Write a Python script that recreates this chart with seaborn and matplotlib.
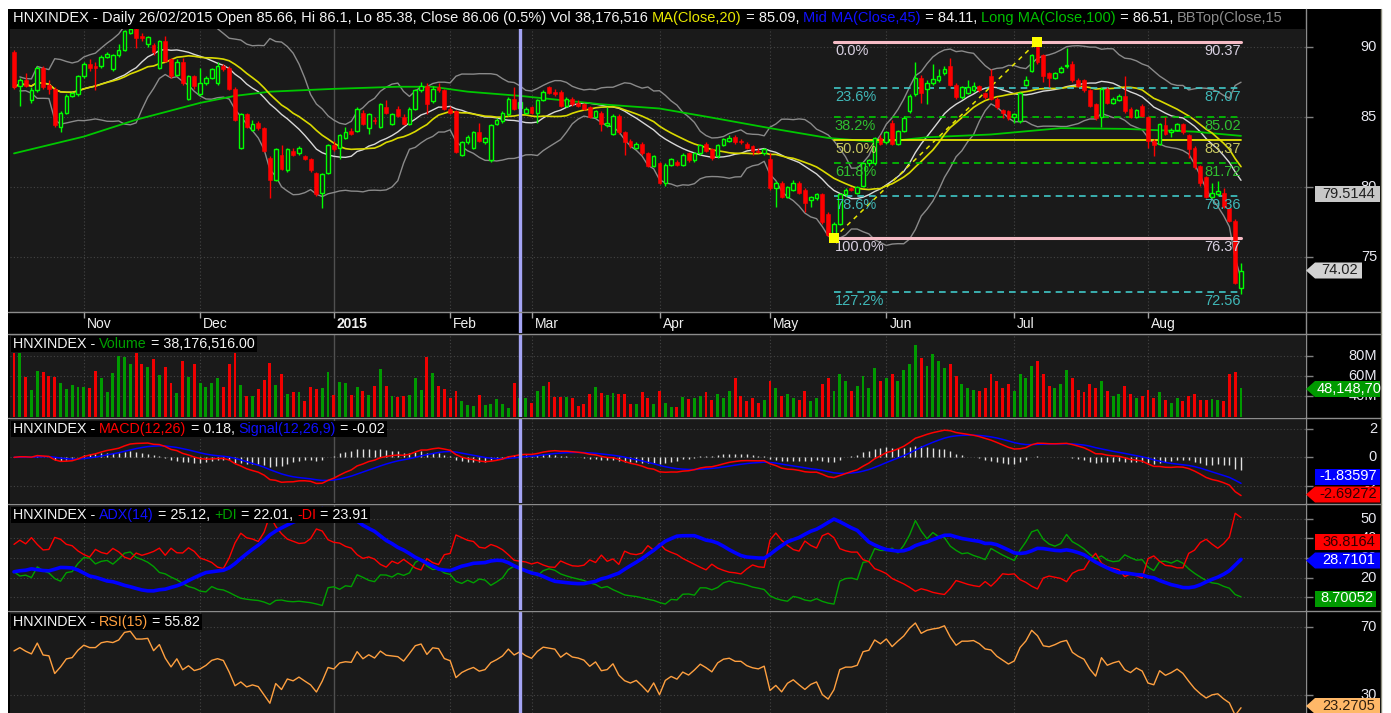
import numpy as np
import pandas as pd
import matplotlib
matplotlib.use("Agg")
import matplotlib.pyplot as plt
import matplotlib.transforms as mtransforms
from matplotlib.patches import Polygon, Rectangle
from matplotlib.lines import Line2D
import seaborn as sns

# ---------------- data ----------------
opens = [89.6, 87.2, 87.6, 86.2, 86.9, 88.5, 87.3, 87.0, 84.3, 85.3, 86.5, 86.6, 87.9, 88.8, 88.6, 88.6, 89.3, 88.4, 89.4, 89.8, 91.0, 91.3, 90.8, 90.2,
         90.1, 88.5, 90.4, 89.1, 88.0, 88.9, 86.3, 87.9, 86.6, 87.4, 87.8, 87.4, 88.6, 88.5, 87.0, 82.8, 85.2, 84.1, 84.6, 84.2, 82.1, 80.5, 82.3, 81.2,
         82.6, 82.4, 82.2, 82.0, 81.0, 79.6, 81.0, 83.0, 82.8, 83.5, 84.0, 84.0, 85.3, 84.2, 84.8, 84.3, 85.7, 84.5, 85.6, 85.0, 84.5, 85.6, 86.9, 87.2, 86.1, 87.1, 86.9, 85.6, 85.4,
         82.3, 83.2, 82.8, 83.9, 83.2, 81.9, 84.5, 84.7, 85.2, 86.3, 85.66, 85.3, 85.7, 85.3, 86.2, 87.1, 86.8, 86.8, 85.8, 86.3, 86.0, 85.9, 85.7, 85.0, 85.3, 84.4, 83.8, 85.1, 83.9, 83.3,
         82.8, 83.1, 82.4, 81.5, 81.7, 80.3, 81.6, 81.8, 81.6, 82.4, 81.9, 82.4, 83.1, 82.7, 82.2, 83.0, 83.3, 83.6, 83.3, 83.1, 82.9, 82.6, 82.4, 82.0, 79.9, 80.3, 79.3, 79.8, 80.3, 79.8,
         79.1, 79.2, 79.5, 78.1, 76.4, 77.4, 79.5, 79.9, 79.6, 80.1, 81.7, 81.7, 83.5, 83.2, 84.6, 83.1, 84.0, 85.4, 86.6, 87.8, 87.0, 87.4, 87.6, 88.1, 88.6, 87.3, 86.4, 86.7, 86.9,
         87.2, 86.7, 87.9, 86.3, 85.5, 85.4, 85.0, 84.7, 87.3, 88.3, 90.3, 89.4, 88.1, 87.8, 88.2, 88.6, 88.8, 87.6, 87.6, 86.9, 85.9, 85.0, 87.0, 86.0, 86.2, 86.5, 85.6, 85.0, 85.8,
         85.0, 83.3, 83.1, 84.4, 83.9, 84.1, 84.5, 83.7, 82.8, 81.5, 80.7, 79.3, 79.5, 79.6, 78.5, 77.6, 72.8]
highs = [89.8, 87.8, 88.1, 87.1, 88.6, 88.6, 87.6, 87.1, 85.4, 86.6, 86.8, 88.0, 88.9, 89.1, 88.9, 89.4, 89.6, 89.5, 90.2, 91.2, 91.5, 91.4, 91.0, 90.8,
         90.3, 90.5, 90.8, 89.2, 89.1, 89.2, 88.0, 88.0, 88.5, 87.9, 88.5, 88.9, 88.8, 88.6, 87.1, 85.3, 85.3, 84.8, 84.7, 84.3, 82.2, 82.8, 83.0, 82.8,
         82.8, 82.9, 82.3, 82.1, 81.1, 81.0, 83.1, 83.3, 83.8, 84.3, 84.2, 85.7, 85.5, 85.3, 85.0, 86.0, 86.2, 85.3, 85.8, 85.2, 85.7, 87.0, 87.5, 87.4, 87.2, 87.4, 87.0, 85.8, 85.5,
         83.3, 83.7, 84.0, 84.6, 83.6, 84.5, 84.9, 85.4, 86.4, 87.1, 86.1, 85.7, 85.8, 86.3, 86.9, 87.2, 87.0, 86.9, 86.4, 86.4, 86.2, 86.0, 85.8, 85.5, 85.4, 85.7, 85.2, 85.2, 84.0,
         83.4, 83.2, 83.2, 82.5, 82.3, 81.8, 81.7, 82.1, 81.9, 82.4, 82.5, 82.5, 83.1, 83.2, 82.8, 83.1, 83.5, 83.7, 83.7, 83.4, 83.2, 83.0, 82.8, 82.8, 82.4, 80.4, 80.4, 80.1, 80.5, 80.4,
         79.9, 79.4, 79.6, 79.6, 78.2, 77.5, 79.6, 79.9, 80.0, 80.1, 81.8, 82.0, 83.6, 83.7, 84.0, 84.8, 84.1, 85.1, 86.6, 88.9, 88.0, 87.6, 88.8, 88.4, 88.6, 89.2, 87.4, 87.2, 87.6, 87.5,
         87.3, 86.8, 88.4, 86.4, 85.6, 85.5, 85.3, 86.8, 87.9, 89.5, 90.37, 89.5, 88.2, 88.2, 88.6, 89.9, 89.0, 87.8, 87.7, 87.0, 86.0, 87.1, 87.1, 86.4, 86.6, 87.9, 85.7, 85.6, 85.9,
         85.1, 83.4, 84.6, 85.0, 84.2, 84.6, 84.6, 83.8, 82.9, 81.6, 80.8, 80.3, 80.4, 79.9, 78.6, 77.7, 74.6]
lows = [87.0, 85.8, 87.1, 86.0, 86.8, 87.0, 86.6, 84.3, 83.9, 85.2, 86.4, 86.5, 87.8, 88.3, 86.9, 88.5, 89.2, 88.3, 89.3, 89.7, 90.9, 89.9, 90.4, 90.0,
        89.4, 88.4, 88.9, 87.8, 87.9, 87.3, 86.2, 87.0, 86.5, 87.3, 87.7, 87.3, 88.3, 86.9, 84.7, 82.7, 84.2, 84.0, 84.1, 82.5, 79.2, 80.4, 81.2, 81.1,
        82.2, 82.3, 81.9, 81.1, 79.4, 78.5, 80.9, 82.6, 82.0, 83.4, 83.7, 83.9, 84.4, 83.8, 84.5, 84.2, 85.2, 84.4, 85.0, 84.4, 84.4, 85.5, 86.8, 85.2, 86.0, 86.8, 85.5, 85.2, 82.4,
        82.2, 83.1, 82.7, 83.2, 83.1, 81.8, 84.4, 84.6, 85.1, 85.5, 85.38, 85.2, 85.2, 84.6, 86.1, 86.6, 86.5, 85.7, 85.7, 85.8, 85.7, 85.5, 84.9, 84.9, 84.0, 84.3, 83.7, 83.8, 82.3,
        82.8, 82.7, 82.3, 81.4, 81.4, 80.2, 80.1, 81.5, 81.5, 81.5, 81.8, 81.8, 82.3, 82.5, 81.9, 82.1, 82.9, 83.2, 83.1, 83.1, 82.7, 82.3, 82.4, 82.3, 79.8, 78.6, 79.2, 79.2, 79.7, 79.5,
        78.2, 78.6, 79.1, 77.4, 76.5, 76.37, 77.3, 79.4, 79.7, 79.5, 80.0, 81.5, 81.6, 83.0, 83.1, 83.0, 83.0, 83.9, 85.3, 86.5, 86.0, 85.9, 87.3, 87.5, 88.0, 87.2, 86.3, 86.3, 86.6, 86.8,
        86.8, 86.3, 86.2, 85.6, 84.9, 84.8, 84.6, 84.6, 87.2, 88.2, 88.8, 87.5, 87.1, 87.7, 88.1, 88.5, 87.5, 87.1, 86.8, 85.7, 84.8, 84.3, 85.9, 85.9, 86.1, 85.3, 84.9, 84.9, 85.0,
        82.8, 82.2, 83.0, 83.7, 83.6, 84.0, 83.8, 82.1, 81.3, 80.1, 79.2, 79.2, 79.4, 78.5, 77.5, 73.1, 72.4]
closes = [87.1, 87.6, 87.2, 86.9, 88.5, 87.1, 87.0, 84.4, 85.3, 86.5, 86.7, 87.9, 88.8, 88.5, 88.5, 89.3, 89.5, 89.4, 89.8, 91.1, 91.3, 90.6, 90.6, 90.7,
          89.6, 90.4, 89.0, 87.9, 88.9, 87.4, 87.9, 87.2, 87.4, 87.8, 88.4, 88.6, 88.4, 87.0, 84.8, 85.2, 84.3, 84.5, 84.2, 82.6, 80.5, 82.7, 81.3, 82.7,
          82.3, 82.8, 82.0, 81.2, 79.5, 80.9, 83.0, 82.7, 83.7, 83.9, 83.8, 85.6, 84.5, 85.2, 84.7, 85.9, 85.3, 85.2, 85.1, 84.5, 85.6, 86.9, 87.2, 85.9, 87.0, 86.9, 85.6, 85.3, 82.5,
          83.2, 83.6, 83.9, 83.3, 83.5, 84.4, 84.8, 85.3, 86.3, 85.6, 86.06, 85.6, 85.3, 86.2, 86.8, 86.7, 86.6, 85.8, 86.3, 85.9, 85.8, 85.6, 85.0, 85.4, 84.5, 84.6, 85.1, 83.9, 83.2,
          82.9, 83.1, 82.4, 81.5, 82.2, 80.3, 81.6, 82.0, 81.6, 82.3, 81.9, 82.4, 83.0, 82.6, 82.1, 83.0, 83.4, 83.5, 83.2, 83.2, 82.8, 82.6, 82.5, 82.7, 79.9, 80.3, 79.3, 80.0, 80.3, 79.6,
          78.9, 79.3, 79.5, 77.5, 76.6, 77.4, 79.5, 79.8, 79.8, 80.0, 81.7, 81.9, 83.5, 83.1, 83.9, 83.1, 84.0, 84.9, 86.5, 87.8, 86.7, 87.4, 87.7, 87.9, 88.4, 87.3, 86.4, 87.1, 87.1, 87.2,
          86.9, 86.4, 86.3, 85.7, 85.3, 84.9, 85.2, 86.7, 87.6, 89.4, 88.9, 87.9, 87.8, 88.1, 88.5, 88.7, 87.6, 87.2, 86.9, 85.8, 84.9, 87.0, 86.0, 86.3, 86.5, 85.4, 85.0, 85.5, 85.1,
          83.3, 83.0, 84.5, 83.8, 84.1, 84.5, 83.9, 82.7, 81.4, 80.3, 79.3, 79.6, 79.7, 78.6, 77.6, 73.2, 74.02]
volumes_m = [82.7, 82.7, 59, 46, 65, 64, 60, 59, 53, 47, 51, 49, 49, 48, 65, 58, 44, 63, 80, 79, 72, 83, 72, 69,
             77, 61, 69, 53, 43, 75, 59, 72, 53, 49, 53, 58, 49, 72, 83, 51, 40, 40, 47, 56, 73, 51, 62, 42,
             44, 44, 35, 49, 47, 48, 64, 41, 54, 53, 41, 49, 45, 41, 50, 67, 50, 40, 39, 40, 41, 58, 46, 79, 63, 50, 47, 38, 45,
             35, 31, 30, 41, 31, 32, 37, 32, 28, 53, 38.18, 38, 33, 45, 50, 54, 39, 39, 39, 38, 30, 32, 42, 49, 43, 41, 43, 42, 42, 32,
             32, 44, 38, 32, 45, 33, 29, 29, 39, 37, 38, 40, 44, 36, 42, 38, 45, 58, 40, 35, 38, 33, 36, 55, 48, 40, 42, 38, 36, 45,
             35, 38, 52, 58, 45, 62, 55, 45, 50, 60, 48, 68, 55, 58, 62, 55, 66, 72, 91, 78, 70, 82, 75, 68, 72, 60, 52, 48, 46, 45,
             48, 62, 55, 48, 52, 45, 62, 58, 70, 75, 62, 50, 48, 52, 66, 58, 46, 44, 52, 48, 55, 45, 40, 42, 50, 42, 38, 40,
             46, 38, 44, 36, 33, 38, 35, 40, 42, 36, 36, 37, 36, 35, 62, 64, 48.15]

month_pos = [12, 32, 55, 75, 89, 111, 130, 150, 172, 195]
month_labels = ['Nov', 'Dec', '2015', 'Feb', 'Mar', 'Apr', 'May', 'Jun', 'Jul', 'Aug']

long_ma_idx = [0, 12, 21, 32, 38, 44, 55, 66, 72, 78, 87, 94, 101, 111, 120, 130, 140, 149, 157, 168, 180, 191, 203, 211]
long_ma_val = [82.4, 83.6, 84.8, 86.0, 86.5, 86.8, 87.0, 87.15, 87.15, 86.8, 86.5, 86.2, 85.9, 85.6, 84.95, 84.2, 83.5, 83.2,
               83.55, 83.75, 84.2, 84.15, 83.95, 83.65]

# indicator levels on the first bar (history before the window is not shown)
adx_first, pdi_first, mdi_first = 23.0, 23.0, 37.0

fib_pct_labels = ['0.0%', '23.6%', '38.2%', '50.0%', '61.8%', '78.6%', '100.0%', '127.2%']
fib_values = [90.37, 87.07, 85.02, 83.37, 81.72, 79.36, 76.37, 72.56]
swing_idx = [141, 176]
swing_val = [76.37, 90.37]
selected_idx = 87

price_ticks = [75, 80, 85, 90]
volume_ticks = [40, 60, 80]
macd_ticks = [-2, 0, 2]
adx_ticks = [10, 20, 30, 40, 50]
rsi_ticks = [30, 70]

# ---------------- derived indicators ----------------
df = pd.DataFrame({'o': opens, 'h': highs, 'l': lows, 'c': closes, 'v': volumes_m})
n = len(df)
idx = np.arange(n)
c = df['c']
ma20 = c.rolling(20, min_periods=1).mean()
bb_mid = c.rolling(15, min_periods=1).mean()
bb_sd = c.rolling(15, min_periods=2).std(ddof=0)
bb_top = bb_mid + 2 * bb_sd
bb_bot = bb_mid - 2 * bb_sd

ema12 = c.ewm(span=12, adjust=False).mean()
ema26 = c.ewm(span=26, adjust=False).mean()
macd = ema12 - ema26
signal = macd.ewm(span=9, adjust=False).mean()
hist = macd - signal


def wilder(s, period, seed=None):
    s = pd.Series(np.asarray(s, dtype=float)).fillna(0.0)
    s.iloc[0] = s.iloc[:period].mean() if seed is None else seed
    return s.ewm(alpha=1 / period, adjust=False).mean()


h, l = df['h'], df['l']
prev_c = c.shift(1).fillna(df['o'])
tr = pd.concat([h - l, (h - prev_c).abs(), (l - prev_c).abs()], axis=1).max(axis=1)
up_move = h.diff()
dn_move = -l.diff()
plus_dm = np.where((up_move > dn_move) & (up_move > 0), up_move, 0.0)
minus_dm = np.where((dn_move > up_move) & (dn_move > 0), dn_move, 0.0)
atr = wilder(tr, 14)
pdi = 100 * wilder(plus_dm, 14, seed=pdi_first / 100 * atr.iloc[0]) / atr
mdi = 100 * wilder(minus_dm, 14, seed=mdi_first / 100 * atr.iloc[0]) / atr
dx = 100 * (pdi - mdi).abs() / (pdi + mdi)
adx = wilder(dx, 14, seed=adx_first)

delta = c.diff()
gain = wilder(delta.clip(lower=0), 15)
loss = wilder(-delta.clip(upper=0), 15)
rsi = 100 - 100 / (1 + gain / loss)

# ---------------- figure ----------------
sns.set_theme(style="dark")
plt.rcParams['font.family'] = ['Liberation Sans', 'DejaVu Sans']

W, H = 1391, 713
fig = plt.figure(figsize=(W / 100, H / 100), dpi=100, facecolor='white')
fig.patches.append(Rectangle((8 / W, 0), (1381 - 8) / W, (H - 9) / H, transform=fig.transFigure,
                             facecolor='black', edgecolor='none', zorder=-10))

PANEL_BG = '#1a1a1a'
GRID = '#444444'
X0, X1 = -0.69, 222.0


def mkax(yt, yb, bg=PANEL_BG):
    ax = fig.add_axes([10 / W, 1 - yb / H, 1295 / W, (yb - yt) / H])
    ax.set_facecolor(bg)
    for s in ax.spines.values():
        s.set_visible(False)
    ax.set_xlim(X0, X1)
    ax.set_xticks([])
    ax.grid(False)
    return ax


ax_p = mkax(9, 312)
ax_d = mkax(312, 333, bg='black')
ax_v = mkax(334, 417)
ax_m = mkax(419, 503)
ax_a = mkax(505, 610)
ax_r = mkax(612, 713)

ax_p.set_ylim(71.10, 92.69)
ax_v.set_ylim(19, 102)
ax_m.set_ylim(-3.18, 2.67)
ax_a.set_ylim(3.5, 57.1)
ax_r.set_ylim(19.4, 79.0)
ax_d.set_ylim(0, 1)


def yaxis_right(ax, ticks, labels):
    ax.set_yticks(ticks)
    ax.tick_params(axis='y', left=False, right=True, labelleft=False, labelright=False,
                   length=6, width=1, color='#808080', direction='out')
    tr_ = mtransforms.blended_transform_factory(ax.transAxes, ax.transData)
    for t, lab in zip(ticks, labels):
        ax.axhline(t, color=GRID, ls=(0, (1, 2)), lw=0.8, zorder=0.5)
        ax.text(1 + (1377 - 1305) / 1295, t, lab, transform=tr_, ha='right', va='center',
                color='#e8e8f0', fontsize=10.5, clip_on=False, zorder=15)


yaxis_right(ax_p, price_ticks, [str(t) for t in price_ticks])
yaxis_right(ax_v, volume_ticks, [f'{t}M' for t in volume_ticks])
yaxis_right(ax_m, macd_ticks, [str(t) for t in macd_ticks])
yaxis_right(ax_a, adx_ticks, [str(t) for t in adx_ticks])
yaxis_right(ax_r, rsi_ticks, [str(t) for t in rsi_ticks])
ax_d.set_yticks([])

# vertical month lines
for ax in (ax_p, ax_v, ax_m, ax_a, ax_r):
    for pos, lab in zip(month_pos, month_labels):
        if lab == '2015':
            ax.axvline(pos, color='#505050', lw=1, zorder=0.5)
        else:
            ax.axvline(pos, color=GRID, ls=(0, (1, 2)), lw=0.8, zorder=0.5)

# ---------------- price panel ----------------
sns.lineplot(x=idx, y=bb_top.values, ax=ax_p, color='#8a8a8a', lw=1, zorder=2)
sns.lineplot(x=idx, y=bb_bot.values, ax=ax_p, color='#8a8a8a', lw=1, zorder=2)
sns.lineplot(x=idx, y=bb_mid.values, ax=ax_p, color='#d8d8d8', lw=1, zorder=2)
sns.lineplot(x=long_ma_idx, y=long_ma_val, ax=ax_p, color='#00c800', lw=1.3, zorder=2)
sns.lineplot(x=idx, y=ma20.values, ax=ax_p, color='#dada00', lw=1.2, zorder=2)

# fibonacci
fib_line = ['#f6bcc6', '#40c8c8', '#00c800', '#e6e600', '#00c800', '#40c8c8', '#f6bcc6', '#40c8c8']
fib_ls = ['-', (0, (4, 3)), (0, (4, 3)), '-', (0, (4, 3)), (0, (4, 3)), '-', (0, (4, 3))]
fib_lw = [2.2, 1.2, 1.2, 1.3, 1.2, 1.2, 2.2, 1.2]
fib_txt = ['#d8d0e0', '#40b8b8', '#30c030', '#c8c860', '#30c030', '#40b8b8', '#d8d0e0', '#40b8b8']
fib_x0, fib_x1 = swing_idx[0], n - 1
for val, lab, lc, ls, lw, tc in zip(fib_values, fib_pct_labels, fib_line, fib_ls, fib_lw, fib_txt):
    ax_p.plot([fib_x0, fib_x1], [val, val], color=lc, ls=ls, lw=lw, zorder=3)
    ax_p.annotate(lab, xy=(fib_x0, val), xytext=(1, -2), textcoords='offset pixels',
                  ha='left', va='top', color=tc, fontsize=10.5, zorder=6)
    ax_p.annotate(f'{val:.2f}', xy=(fib_x1, val), xytext=(0, -2), textcoords='offset pixels',
                  ha='right', va='top', color=tc, fontsize=10.5, zorder=6)
ax_p.plot(swing_idx, swing_val, color='#e6e600', ls=(0, (3, 3)), lw=1.1, zorder=3)

# candles
o = np.array(opens); cl = np.array(closes); hi = np.array(highs); lo = np.array(lows)
up = cl >= o
bot = np.minimum(o, cl)
bh = np.maximum(np.abs(cl - o), 0.05)
ax_p.vlines(idx[up], lo[up], hi[up], color='#00ff00', lw=1, zorder=4)
ax_p.vlines(idx[~up], lo[~up], hi[~up], color='#ff0000', lw=1, zorder=4)
ax_p.bar(idx[up], bh[up], bottom=bot[up], width=0.62, facecolor=PANEL_BG, edgecolor='#00ff00',
         linewidth=1.0, zorder=5)
ax_p.bar(idx[~up], bh[~up], bottom=bot[~up], width=0.66, facecolor='#ff0000', edgecolor='#ff0000',
         linewidth=0.4, zorder=5)
ax_p.scatter(swing_idx, swing_val, marker='s', s=42, color='#ffff00', zorder=7, linewidths=0)

# ---------------- volume ----------------
vcol = np.where(up, '#009a00', '#f00000')
ax_v.bar(idx, np.array(volumes_m), width=0.5, color=vcol, edgecolor='none', linewidth=0, zorder=3)

# ---------------- MACD ----------------
ax_m.vlines(idx, 0, hist.values, color='#e0e0e0', lw=1, zorder=2)
sns.lineplot(x=idx, y=signal.values, ax=ax_m, color='#0000ff', lw=1.1, zorder=3)
sns.lineplot(x=idx, y=macd.values, ax=ax_m, color='#ff0000', lw=1.1, zorder=3)

# ---------------- ADX ----------------
sns.lineplot(x=idx, y=pdi.values, ax=ax_a, color='#00a000', lw=1, zorder=3)
sns.lineplot(x=idx, y=mdi.values, ax=ax_a, color='#ff0000', lw=1, zorder=3)
sns.lineplot(x=idx, y=adx.values, ax=ax_a, color='#0000ff', lw=2.6, zorder=4)

# ---------------- RSI ----------------
sns.lineplot(x=idx, y=rsi.values, ax=ax_r, color='#ffa040', lw=1, zorder=3)

# selection line
for ax in (ax_p, ax_d, ax_v, ax_m, ax_a, ax_r):
    ax.axvline(selected_idx, color='#a4a4f4', lw=2.4, zorder=8)

# ---------------- date strip ----------------
ax_d.vlines(month_pos, 0.72, 1.0, color='#a0a0a0', lw=1)
for pos, lab in zip(month_pos, month_labels):
    ax_d.annotate(lab, xy=(pos, 0.45), xytext=(3, 0), textcoords='offset pixels', va='center',
                  ha='left', color='#f0f0f0', fontsize=10,
                  fontweight='bold' if lab == '2015' else 'normal')

# ---------------- headers ----------------
WHITE = '#f4f4f4'
ident = mtransforms.IdentityTransform()


def header(ax, pieces, top_px=3, size=10.3):
    prev = None
    arts = []
    for txt, col in pieces:
        kw = dict(color=col, fontsize=size, zorder=12, annotation_clip=False)
        if prev is None:
            t = ax.annotate(txt, xy=(0, 1), xycoords='axes fraction', xytext=(3, -top_px),
                            textcoords='offset pixels', va='top', ha='left', **kw)
        else:
            t = ax.annotate(txt, xy=(1, 0), xycoords=prev, va='bottom', ha='left', **kw)
        prev = t
        arts.append(t)
    return arts


ax_p.add_patch(Rectangle((10 / W, 1 - 29 / H), 1295 / W, 20 / H, transform=fig.transFigure,
                         facecolor='black', edgecolor='none', zorder=11, clip_on=False))
header(ax_p, [
    ('HNXINDEX - Daily 26/02/2015 Open 85.66, Hi 86.1, Lo 85.38, Close 86.06 (0.5%) Vol 38,176,516 ', WHITE),
    ('MA(Close,20)', '#e8e800'), (' = 85.09, ', WHITE),
    ('Mid MA(Close,45)', '#1010ff'), (' = 84.11, ', WHITE),
    ('Long MA(Close,100)', '#00c000'), (' = 86.51, ', WHITE),
    ('BBTop(Close,15', '#8c8c8c')], top_px=2, size=10.5)
sub_headers = [
    (ax_v, header(ax_v, [('HNXINDEX - ', WHITE), ('Volume', '#00a000'), (' = 38,176,516.00', WHITE)])),
    (ax_m, header(ax_m, [('HNXINDEX - ', WHITE), ('MACD(12,26)', '#ff0000'), (' = 0.18, ', WHITE),
                         ('Signal(12,26,9)', '#1010ff'), (' = -0.02', WHITE)])),
    (ax_a, header(ax_a, [('HNXINDEX - ', WHITE), ('ADX(14)', '#1010ff'), (' = 25.12, ', WHITE),
                         ('+DI', '#00a000'), (' = 22.01, ', WHITE), ('-DI', '#ff0000'), (' = 23.91', WHITE)])),
    (ax_r, header(ax_r, [('HNXINDEX - ', WHITE), ('RSI(15)', '#ffa040'), (' = 55.82', WHITE)])),
]

# ---------------- separators ----------------
for ypx in (312, 333.5, 418, 504, 611):
    fig.add_artist(Line2D([8 / W, 1381 / W], [1 - ypx / H, 1 - ypx / H], transform=fig.transFigure,
                          color='#8c8c8c', lw=1, zorder=20))
for xpx, col in ((1305.5, '#8c8c8c'), (1381, '#8c8c7c')):
    fig.add_artist(Line2D([xpx / W, xpx / W], [0, 1 - 9 / H], transform=fig.transFigure,
                          color=col, lw=1, zorder=20))

# ---------------- value boxes on the right axis ----------------


def value_box(ypx, text, bg, fg, arrow, x_right=1380, halign='center'):
    yd = H - ypx
    hh = 8
    xl = 1315
    if arrow:
        pts = [(1306, yd), (xl, yd + hh), (x_right, yd + hh), (x_right, yd - hh), (xl, yd - hh)]
    else:
        pts = [(xl, yd + hh), (x_right, yd + hh), (x_right, yd - hh), (xl, yd - hh)]
    fig.add_artist(Polygon(pts, closed=True, transform=ident, facecolor=bg, edgecolor='none', zorder=25))
    if halign == 'center':
        fig.text((xl + x_right) / 2 + 1, yd, text, transform=ident, ha='center', va='center',
                 color=fg, fontsize=10.5, zorder=26)
    else:
        fig.text(xl + 2, yd, text, transform=ident, ha='left', va='center',
                 color=fg, fontsize=10.5, zorder=26)


value_box(194, '79.5144', '#c8c8c8', '#202020', False)
value_box(270.5, '74.02', '#d2d2d2', '#202020', True, x_right=1362)
value_box(389, '48,148,70', '#009a00', '#ffffff', True, halign='left')
value_box(476.5, '-1.83597', '#0000ff', '#ffffff', False)
value_box(494.5, '-2.69272', '#ff0000', '#300000', True)
value_box(541.5, '36.8164', '#ff0000', '#300000', False)
value_box(560.5, '28.7101', '#0000ff', '#ffffff', True)
value_box(598.5, '8.70052', '#009a00', '#ffffff', False, x_right=1376)
value_box(706, '23.2705', '#ffb868', '#302010', True)

# black boxes behind the sub-panel headers
fig.canvas.draw()
renderer = fig.canvas.get_renderer()
for ax, arts in sub_headers:
    exts = [a.get_window_extent(renderer) for a in arts]
    x0 = min(e.x0 for e in exts) - 2
    x1 = max(e.x1 for e in exts) + 2
    y0 = min(e.y0 for e in exts) - 1
    y1 = max(e.y1 for e in exts) + 1
    ax.add_patch(Rectangle((x0, y0), x1 - x0, y1 - y0, transform=ident, facecolor='black',
                           edgecolor='none', zorder=11, clip_on=False))

fig.savefig('out.png', dpi=100, facecolor='white')
